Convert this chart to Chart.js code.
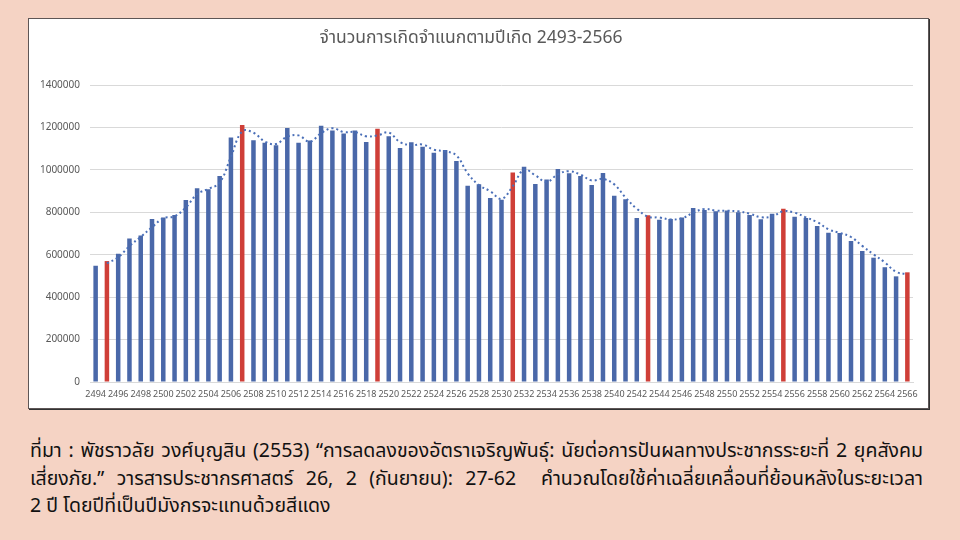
<!DOCTYPE html>
<html>
<head>
<meta charset="utf-8">
<script src="https://cdn.jsdelivr.net/npm/chart.js@4"></script>
<style>
  html, body { margin: 0; padding: 0; }
  body { width: 960px; height: 540px; background: #f5d3c4; position: relative; overflow: hidden;
         font-family: "Noto Sans Thai", Tahoma, "Noto Sans", sans-serif; }
  #box { position: absolute; left: 28px; top: 18px; width: 899px; height: 389px;
         background: #fff; border: 1.5px solid #5e5656; box-shadow: 1px 1px 0 #333; }
  #box canvas { display: block; }
  #note { position: absolute; left: 30px; top: 438px; width: 893px; color: #111; font-size: 19.5px; line-height: 27.5px; font-weight: 400; }
  #note .j { text-align: justify; text-align-last: justify; white-space: nowrap; }
</style>
</head>
<body>
<div id="box"><canvas id="c" width="899" height="389"></canvas></div>
<div id="note">
  <div class="j">ที่มา : พัชราวลัย วงศ์บุญสิน (2553) “การลดลงของอัตราเจริญพันธุ์: นัยต่อการปันผลทางประชากรระยะที่ 2 ยุคสังคม</div>
  <div class="j">เสี่ยงภัย.” วารสารประชากรศาสตร์ 26, 2 (กันยายน): 27-62 &nbsp;คำนวณโดยใช้ค่าเฉลี่ยเคลื่อนที่ย้อนหลังในระยะเวลา</div>
  <div>2 ปี โดยปีที่เป็นปีมังกรจะแทนด้วยสีแดง</div>
</div>
<script>
const chartTitle = "จำนวนการเกิดจำแนกตามปีเกิด 2493-2566";
const years = [2494,2495,2496,2497,2498,2499,2500,2501,2502,2503,2504,2505,2506,2507,2508,2509,2510,2511,2512,2513,2514,2515,2516,2517,2518,2519,2520,2521,2522,2523,2524,2525,2526,2527,2528,2529,2530,2531,2532,2533,2534,2535,2536,2537,2538,2539,2540,2541,2542,2543,2544,2545,2546,2547,2548,2549,2550,2551,2552,2553,2554,2555,2556,2557,2558,2559,2560,2561,2562,2563,2564,2565,2566];
const births = [548000,570000,605000,677000,691000,768000,775000,787000,858000,913000,908000,971000,1152000,1211000,1139000,1128000,1116000,1197000,1128000,1138000,1208000,1185000,1171000,1185000,1131000,1194000,1158000,1103000,1130000,1109000,1081000,1094000,1042000,925000,932000,867000,859000,987000,1015000,933000,954000,1004000,984000,971000,929000,985000,878000,861000,773000,786000,765000,768000,775000,820000,811000,805000,809000,800000,787000,767000,793000,817000,779000,773000,735000,704000,702000,665000,618000,586000,541000,498000,517000];
const dragonYears = [2495,2507,2519,2531,2543,2555,2566];
const maPeriod = 2;

// trailing moving average (trendline), derived from the births array
const movingAvg = births.map((v, i) => {
  if (i < maPeriod - 1) return null;
  let s = 0; for (let k = 0; k < maPeriod; k++) s += births[i - k];
  return s / maPeriod;
});

const barColors = years.map(y => dragonYears.includes(y) ? '#cf3f38' : '#4a68a9');

new Chart(document.getElementById('c'), {
  data: {
    labels: years.map(String),
    datasets: [
      { type: 'line', data: movingAvg, borderColor: '#4a6fb8', borderWidth: 2, borderDash: [2, 3],
        pointRadius: 0, tension: 0.4, fill: false, order: 0, spanGaps: false },
      { type: 'bar', data: births, backgroundColor: barColors, borderWidth: 0,
        categoryPercentage: 1.0, barPercentage: 0.4, order: 1 }
    ]
  },
  options: {
    responsive: false,
    animation: false,
    events: [],
    layout: { padding: { left: 0, right: 15, top: 0, bottom: 0 } },
    plugins: {
      legend: { display: false },
      tooltip: { enabled: false },
      title: { display: true, text: chartTitle, color: '#595959',
               font: { family: '"Noto Sans Thai", Tahoma, "Noto Sans", sans-serif', size: 17.5, weight: 'normal' },
               padding: { top: 10, bottom: 35 } }
    },
    scales: {
      x: {
        grid: { display: false, drawTicks: false },
        border: { display: true, color: '#d9d9d9', width: 1 },
        ticks: { color: '#595959', font: { size: 9, family: '"Noto Sans", sans-serif' },
                 autoSkip: false, maxRotation: 0, minRotation: 0, padding: 7,
                 callback: function(v, i) { return i % 2 === 0 ? this.getLabelForValue(v) : ''; } },
        afterFit: s => { s.height = 26; }
      },
      y: {
        min: 0, max: 1400000,
        grid: { color: '#d9d9d9', drawTicks: false },
        border: { display: false },
        ticks: { stepSize: 200000, color: '#595959', padding: 10,
                 font: { size: 10, family: '"Noto Sans", sans-serif' },
                 callback: v => String(v) },
        afterFit: s => { s.width = 61; }
      }
    }
  }
});
</script>
</body>
</html>
